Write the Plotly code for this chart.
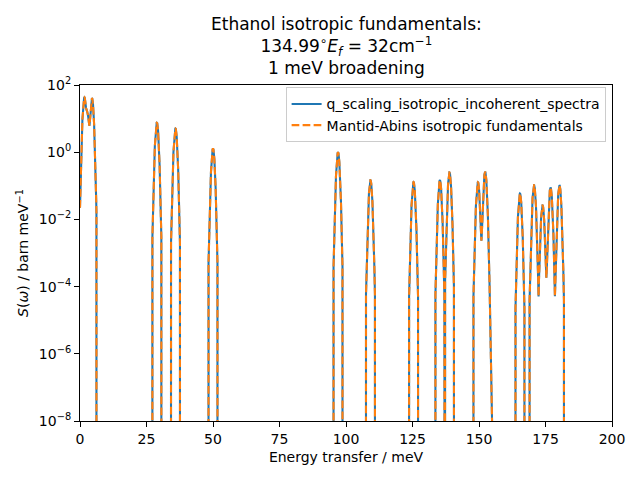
import numpy as np
import plotly.graph_objects as go

# Peak list (energy in meV, peak height in barn/meV)
peak_energies = [1.65, 2.8, 4.5, 28.9, 35.9, 50.0, 97.0, 109.2, 125.4, 135.3,
                 138.9, 149.6, 152.3, 165.4, 170.7, 173.9, 176.9, 180.25]
peak_heights = [42.5, 14.0, 40.6, 7.6, 5.1, 1.29, 1.0, 0.147, 0.13, 0.147,
                0.25, 0.128, 0.26, 0.059, 0.104, 0.026, 0.089, 0.104]
broadening_fwhm = 1.0  # meV, Gaussian, truncated at 4 sigma

series_names = ["q_scaling_isotropic_incoherent_spectra",
                "Mantid-Abins isotropic fundamentals"]
x_ticks = [0, 25, 50, 75, 100, 125, 150, 175, 200]
y_tick_values = [1e-8, 1e-6, 1e-4, 1e-2, 1e0, 1e2]
y_tick_labels = ["10<sup>−8</sup>", "10<sup>−6</sup>", "10<sup>−4</sup>",
                 "10<sup>−2</sup>", "10<sup>0</sup>", "10<sup>2</sup>"]
title_lines = ["Ethanol isotropic fundamentals:",
               "134.99<sup>∘</sup><i>E<sub>f</sub></i> = 32cm<sup>−1</sup>",
               "1 meV broadening"]

# Broadened spectrum on an energy grid
energy = np.arange(0.0, 200.0001, 0.02)
sigma = broadening_fwhm / (2 * np.sqrt(2 * np.log(2)))
spectrum = np.zeros_like(energy)
for c, h in zip(peak_energies, peak_heights):
    d = energy - c
    spectrum += np.where(np.abs(d) <= 4 * sigma, h * np.exp(-d**2 / (2 * sigma**2)), 0.0)
# non-positive values are clipped (as on a log axis) so the line drops off the axes
spectrum_plot = np.clip(spectrum, 1e-20, None)

FONT = "DejaVu Sans"
fig = go.Figure()
fig.add_trace(go.Scatter(x=energy, y=spectrum_plot, mode="lines", name=series_names[0],
                         line=dict(color="#1f77b4", width=2.08)))
fig.add_trace(go.Scatter(x=energy, y=spectrum_plot, mode="lines", name=series_names[1],
                         line=dict(color="#ff7f0e", width=2.08, dash="7.7px,3.3px")))

axis_common = dict(showgrid=False, zeroline=False, showline=True, linecolor="black",
                   linewidth=1.1, mirror=True, ticks="outside", ticklen=5, tickwidth=1.1,
                   tickcolor="black", automargin=False,
                   tickfont=dict(family=FONT, size=14, color="black"))

# the page body adds an 8px offset, so the figure is 632x472 to fill the 640x480 window
fig.update_layout(
    width=632, height=472,
    paper_bgcolor="white", plot_bgcolor="white",
    margin=dict(l=72, r=28, t=77, b=59, autoexpand=False),
    font=dict(family=FONT, size=14, color="black"),
    xaxis=dict(range=[0, 200], tickvals=x_ticks,
               title=dict(text="Energy transfer / meV", standoff=6,
                          font=dict(family=FONT, size=14)),
               **axis_common),
    yaxis=dict(type="log", range=[-8, 2], tickvals=y_tick_values, ticktext=y_tick_labels,
               title=dict(text="<i>S</i>(<i>ω</i>) / barn meV<sup>−1</sup>", standoff=6,
                          font=dict(family=FONT, size=14)),
               **axis_common),
    legend=dict(x=0.988, y=0.993, xanchor="right", yanchor="top",
                bgcolor="rgba(255,255,255,0.8)", bordercolor="#cccccc", borderwidth=1,
                font=dict(family=FONT, size=14, color="black")),
    showlegend=True,
    annotations=[dict(text="<br>".join(title_lines), xref="paper", yref="paper",
                      x=0.5, y=1, xanchor="center", yanchor="bottom", yshift=5,
                      showarrow=False, align="center",
                      font=dict(family=FONT, size=17, color="black"))],
)

fig.write_html("out.html")
